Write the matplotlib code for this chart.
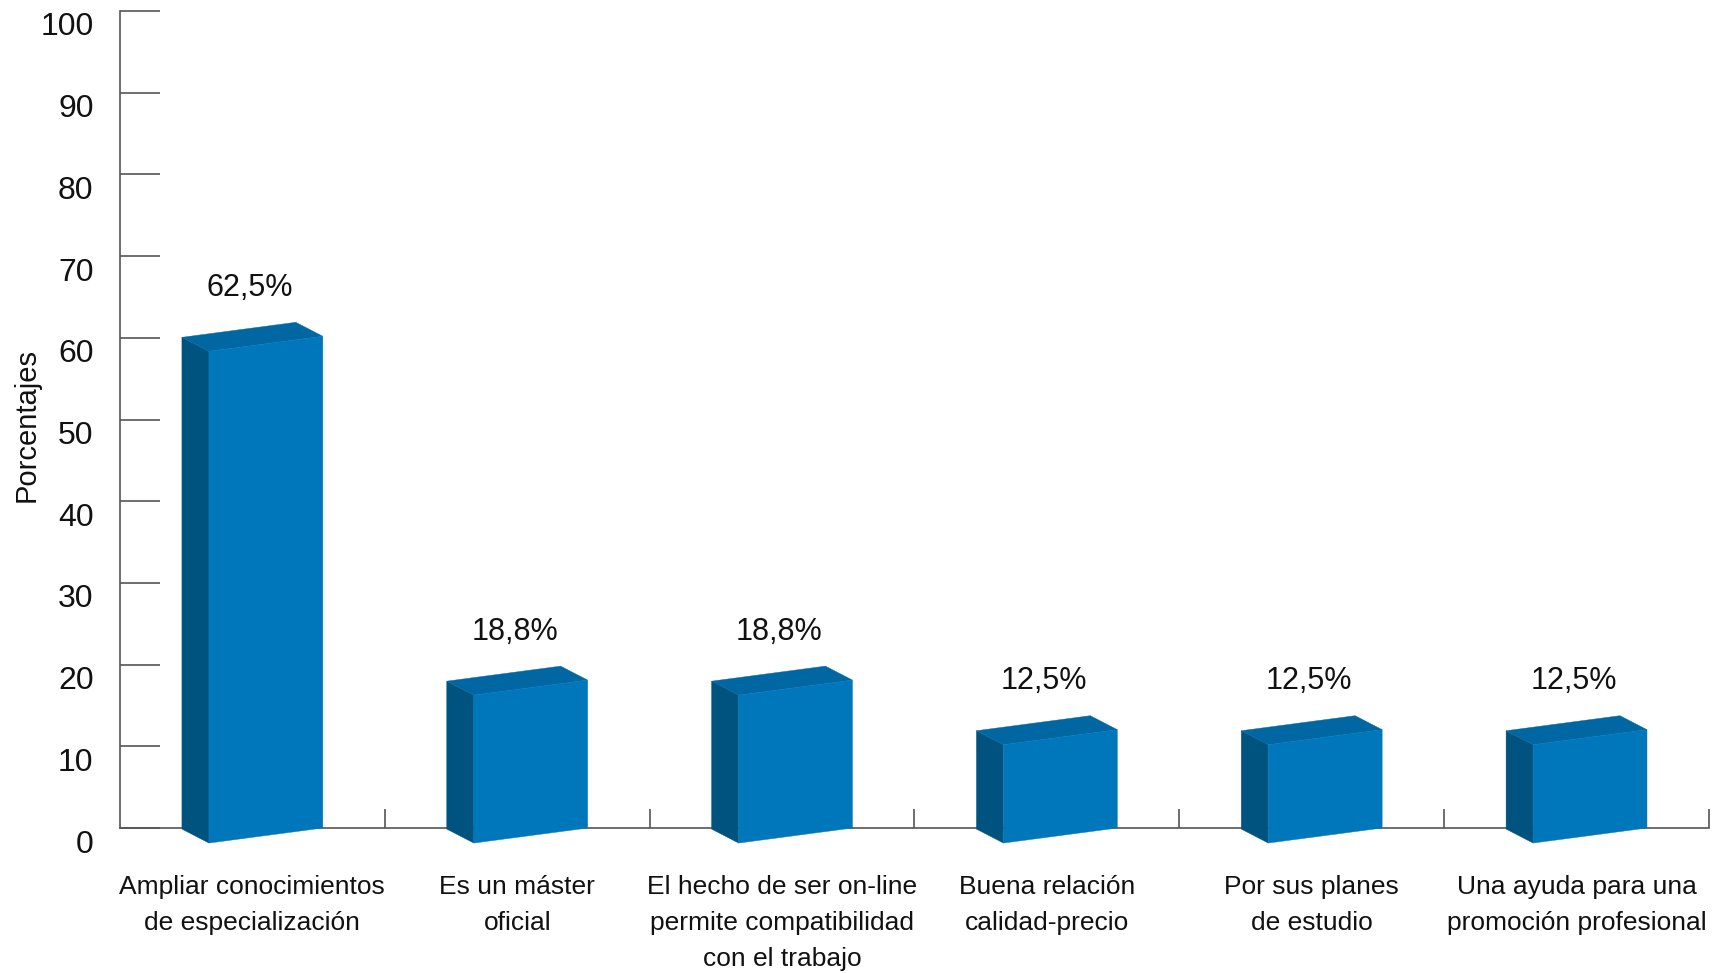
import matplotlib
matplotlib.use("Agg")
import matplotlib.pyplot as plt
import matplotlib.transforms as mtransforms
from matplotlib.patches import Polygon

plt.rcParams["font.family"] = ["Liberation Sans", "DejaVu Sans"]

# --- data ---
categories = [
    "Ampliar conocimientos\nde especialización",
    "Es un máster\noficial",
    "El hecho de ser on-line\npermite compatibilidad\ncon el trabajo",
    "Buena relación\ncalidad-precio",
    "Por sus planes\nde estudio",
    "Una ayuda para una\npromoción profesional",
]
values = [62.5, 18.8, 18.8, 12.5, 12.5, 12.5]
value_labels = ["62,5%", "18,8%", "18,8%", "12,5%", "12,5%", "12,5%"]
y_ticks = list(range(0, 101, 10))

# --- style ---
front_color = "#0077BA"
side_color = "#00537F"
top_color = "#0067A2"
axis_color = "#555555"
text_color = "#111111"
persp = 0.963      # 3D boxes are drawn slightly shorter than their value
x0_off, x1_off = 0.336, 0.766   # front face within the category slot
dep_x, dep_y = 0.102, 1.71      # depth offset (back goes up-left)
skew = 1.84                      # front bottom-left sits below the baseline

fig = plt.figure(figsize=(17.21, 9.73), dpi=100)
ax = fig.add_axes([0.0697, 0.149, 0.9233, 0.8397])
ax.set_xlim(0, len(categories))
ax.set_ylim(0, 100)

for i, v in enumerate(values):
    h = v * persp
    x0, x1 = i + x0_off, i + x1_off
    front = [(x0, -skew), (x1, 0), (x1, h), (x0, h - skew)]
    side = [(x0 - dep_x, -skew + dep_y), (x0, -skew), (x0, h - skew),
            (x0 - dep_x, h - skew + dep_y)]
    top = [(x0, h - skew), (x1, h), (x1 - dep_x, h + dep_y),
           (x0 - dep_x, h - skew + dep_y)]
    for pts, c in ((side, side_color), (top, top_color), (front, front_color)):
        ax.add_patch(Polygon(pts, closed=True, facecolor=c, edgecolor=c,
                             linewidth=0.3, clip_on=False, zorder=3))
    ax.text(i + 0.49, h + 5.9, value_labels[i], ha="center", va="center",
            fontsize=22, color=text_color)
    ax.annotate(categories[i], xy=(i + 0.5, 0), xytext=(0, -34),
                textcoords="offset points", ha="center", va="top",
                fontsize=19, linespacing=1.62, color=text_color,
                annotation_clip=False)

# spines
for s in ("top", "right"):
    ax.spines[s].set_visible(False)
for s in ("left", "bottom"):
    ax.spines[s].set_color(axis_color)
    ax.spines[s].set_linewidth(1.2)

ax.set_yticks(y_ticks)
ax.tick_params(axis="y", direction="in", length=29, width=1.2, color=axis_color,
               pad=19, labelsize=23, labelcolor=text_color)
ax.set_xticks(range(1, len(categories) + 1))
ax.set_xticklabels([])
ax.tick_params(axis="x", direction="in", length=14, width=1.2, color=axis_color)

# tick labels sit a little below their tick marks
offset = mtransforms.ScaledTranslation(0, -13 / 100, fig.dpi_scale_trans)
for lab in ax.get_yticklabels():
    lab.set_transform(lab.get_transform() + offset)

fig.text(27 / 1721, 1 - 425 / 973, "Porcentajes", rotation=90, ha="center",
         va="center", fontsize=21, color=text_color)

fig.savefig("out.png", dpi=100)
